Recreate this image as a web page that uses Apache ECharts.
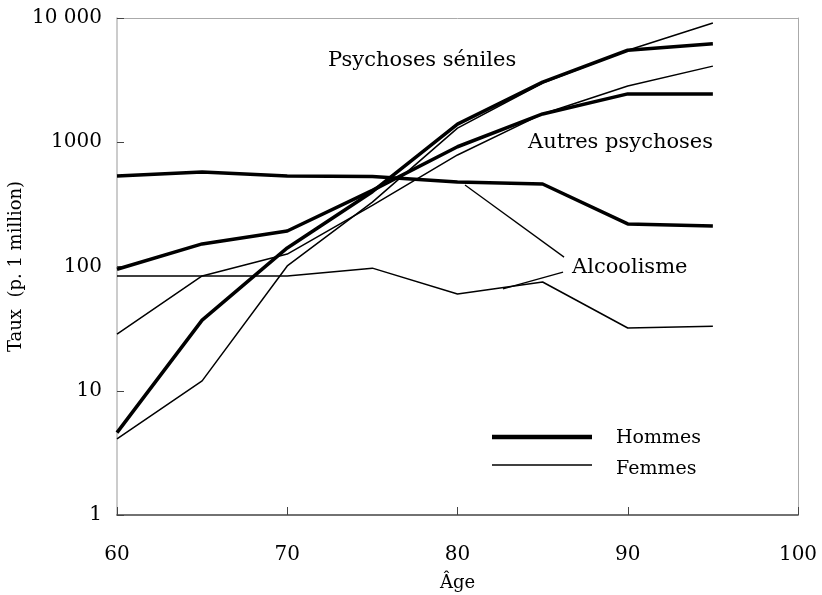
<!DOCTYPE html>
<html>
<head>
<meta charset="utf-8">
<script src="https://cdn.jsdelivr.net/npm/echarts@6/dist/echarts.min.js"></script>
<style>html,body{margin:0;padding:0;background:#fff}#c{width:822px;height:595px}</style>
</head>
<body>
<div id="c"></div>
<script>
var ages = [60, 65, 70, 75, 80, 85, 90, 95];
var senilesHommes = [4.6, 37, 141, 400, 1400, 3050, 5500, 6200];
var senilesFemmes = [4.1, 12, 101, 330, 1300, 3000, 5500, 9100];
var autresHommes = [95, 152, 193, 410, 920, 1690, 2450, 2440];
var autresFemmes = [28.5, 84, 126, 310, 790, 1690, 2840, 4100];
var alcoolHommes = [535, 577, 535, 530, 479, 461, 220, 212];
var alcoolFemmes = [84, 84, 84, 97, 60, 75, 32, 33];
var yTicks = [1, 10, 100, 1000, 10000];
var yTickLabels = ['1', '10', '100', '1000', '10 000'];
var leaderHommes = [[80.44, 453], [86.26, 119]];
var leaderFemmes = [[82.67, 66], [86.2, 90]];

var FONT = 'DejaVu Serif';
function pairs(v) { return ages.map(function (a, i) { return [a, v[i]]; }); }
function ser(name, v, w) {
  return { name: name, type: 'line', data: pairs(v), symbol: 'none', silent: true,
    lineStyle: { color: '#000', width: w }, itemStyle: { color: '#000' }, z: 3 };
}
function leader(d) {
  return { type: 'line', data: d, symbol: 'none', silent: true,
    lineStyle: { color: '#000', width: 1.3 }, z: 3 };
}
function txt(s, x, y, size) {
  return { type: 'text', x: x, y: y, silent: true,
    style: { text: s, font: size + 'px "DejaVu Serif"', fill: '#000', align: 'left', verticalAlign: 'middle' } };
}
var chart = echarts.init(document.getElementById('c'));
chart.setOption({
  animation: false,
  backgroundColor: '#fff',
  grid: { left: 117, top: 18, right: 24, bottom: 80, containLabel: false, outerBoundsMode: 'none' },
  xAxis: [{
    type: 'value', min: 60, max: 100, interval: 10,
    name: 'Âge', nameLocation: 'middle', nameGap: 59,
    nameTextStyle: { fontFamily: FONT, fontSize: 18, color: '#000' },
    axisLine: { lineStyle: { color: '#444', width: 1.5 } },
    axisTick: { inside: true, length: 8, lineStyle: { color: '#444' } },
    axisLabel: { fontFamily: FONT, fontSize: 20, color: '#000', margin: 30 },
    splitLine: { show: false }
  }, {
    type: 'value', min: 60, max: 100, position: 'top',
    axisLine: { show: true, lineStyle: { color: '#aaa' } },
    axisTick: { show: false }, axisLabel: { show: false }, splitLine: { show: false }
  }],
  yAxis: [{
    type: 'log', logBase: 10, min: 1, max: 10000,
    name: 'Taux  (p. 1 million)', nameLocation: 'middle', nameGap: 92, nameRotate: 90,
    nameMoveOverlap: false,
    nameTextStyle: { fontFamily: FONT, fontSize: 18, color: '#000' },
    axisLine: { show: true, lineStyle: { color: '#bbb', width: 1.5 } },
    axisTick: { show: true, inside: true, length: 7, lineStyle: { color: '#444' } },
    minorTick: { show: false },
    axisLabel: { fontFamily: FONT, fontSize: 20, color: '#000', margin: 15,
      formatter: function (v) { var i = yTicks.indexOf(Math.round(v)); return i >= 0 ? yTickLabels[i] : ''; } },
    splitLine: { show: false }
  }, {
    type: 'log', logBase: 10, min: 1, max: 10000, position: 'right',
    axisLine: { show: true, lineStyle: { color: '#aaa' } },
    axisTick: { show: false }, axisLabel: { show: false }, splitLine: { show: false }
  }],
  graphic: [
    txt('Psychoses séniles', 328, 61, 21),
    txt('Autres psychoses', 528, 143, 21),
    txt('Alcoolisme', 572, 268, 21),
    txt('Hommes', 616, 438, 19),
    txt('Femmes', 616, 469, 19),
    { type: 'line', silent: true, shape: { x1: 492, y1: 437, x2: 592, y2: 437 }, style: { stroke: '#000', lineWidth: 4.5 } },
    { type: 'line', silent: true, shape: { x1: 492, y1: 465, x2: 592, y2: 465 }, style: { stroke: '#000', lineWidth: 1.5 } }
  ],
  series: [
    ser('Hommes', senilesHommes, 3.5),
    ser('Femmes', senilesFemmes, 1.5),
    ser('Hommes', autresHommes, 3.5),
    ser('Femmes', autresFemmes, 1.5),
    ser('Hommes', alcoolHommes, 3.5),
    ser('Femmes', alcoolFemmes, 1.5),
    leader(leaderHommes),
    leader(leaderFemmes)
  ]
});
</script>
</body>
</html>
